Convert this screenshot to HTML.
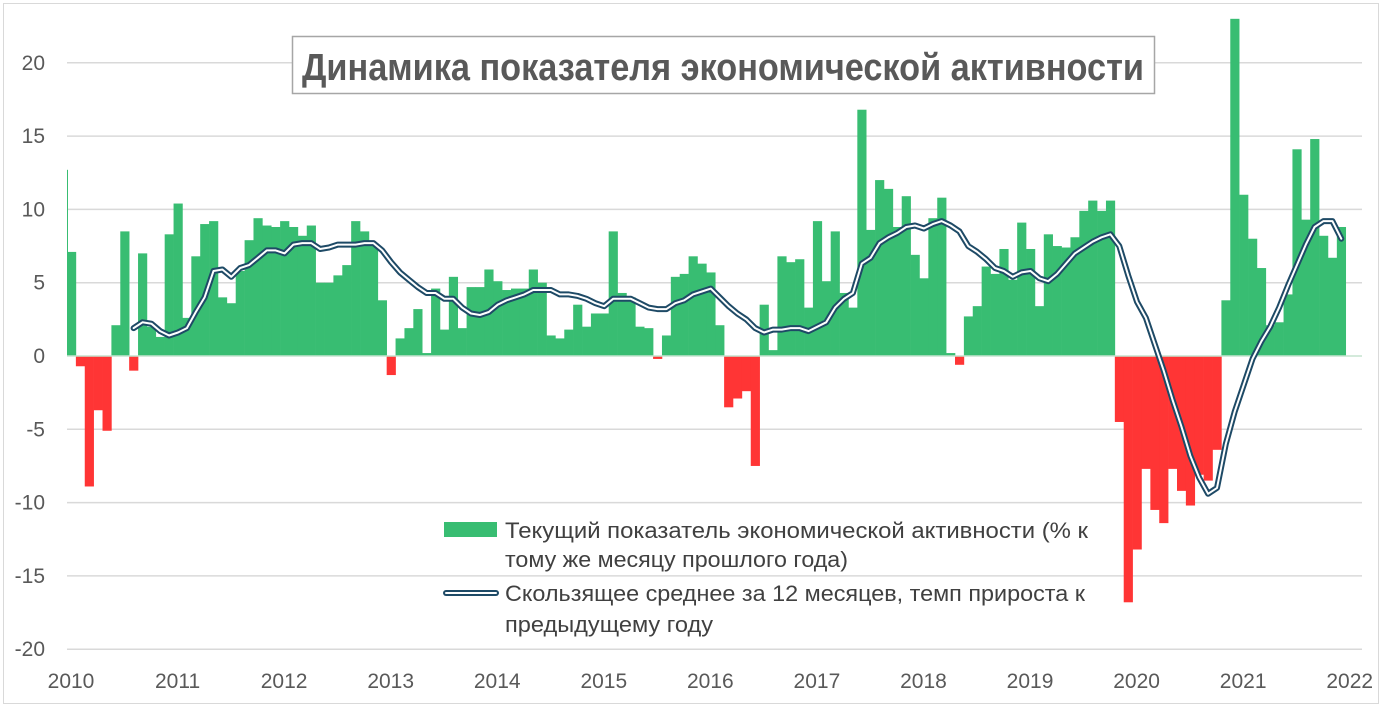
<!DOCTYPE html>
<html><head><meta charset="utf-8"><style>
html,body{margin:0;padding:0;background:#fff;}
svg{display:block;font-family:"Liberation Sans",sans-serif;}
</style></head><body>
<svg id="s" width="1382" height="707" viewBox="0 0 1382 707" xmlns="http://www.w3.org/2000/svg">
<rect x="3.5" y="3.5" width="1375" height="700" fill="#fff" stroke="#d9d9d9"/>
<g id="grid" stroke="#d9d9d9" stroke-width="1.5"></g>
<g id="bars"></g>
<g id="line"></g>
<g fill="#595959" font-size="21" text-anchor="end" id="ylab"></g>
<g fill="#595959" font-size="21" text-anchor="middle" id="xlab"></g>
<rect x="292.5" y="36.5" width="862" height="57" fill="#fff" stroke="#a6a6a6" stroke-width="1.5"/>
<text x="723" y="80" text-anchor="middle" font-family="'Liberation Sans Narrow','Liberation Sans',sans-serif" font-weight="bold" font-size="38" fill="#595959" textLength="842" lengthAdjust="spacingAndGlyphs">Динамика показателя экономической активности</text>
<rect x="444" y="522" width="53" height="15" fill="#38bd72"/>
<g fill="#404040" font-size="22">
<text x="505" y="538" textLength="583" lengthAdjust="spacingAndGlyphs">Текущий показатель экономической активности (% к</text>
<text x="505" y="567" textLength="343" lengthAdjust="spacingAndGlyphs">тому же месяцу прошлого года)</text>
<text x="505" y="601" textLength="580" lengthAdjust="spacingAndGlyphs">Скользящее среднее за 12 месяцев, темп прироста к</text>
<text x="505" y="632" textLength="208" lengthAdjust="spacingAndGlyphs">предыдущему году</text>
</g>
<line x1="446" y1="593" x2="496" y2="593" stroke="#1e4a66" stroke-width="6" stroke-linecap="round"/>
<line x1="446" y1="593" x2="496" y2="593" stroke="#fff" stroke-width="2" stroke-linecap="round"/>
</svg>
<script>
var NS="http://www.w3.org/2000/svg";
function el(t,a,p){var e=document.createElementNS(NS,t);for(var k in a)e.setAttribute(k,a[k]);p.appendChild(e);return e;}
var Y0=356,U=14.66,X0=67,M=8.88;
function y(v){return Y0-v*U;}
var g=document.getElementById('grid'),yl=document.getElementById('ylab'),xl=document.getElementById('xlab');
for(var v=-20;v<=20;v+=5){if(v!=0)el('line',{x1:67,x2:1362,y1:y(v),y2:y(v)},g);var t=el('text',{x:45,y:y(v)+7},yl);t.textContent=v;}
for(var yr=0;yr<=12;yr++){var t=el('text',{x:X0+yr*12*M+4,y:688},xl);t.textContent=2010+yr;}
var d=[7.1,-0.7,-8.9,-3.7,-5.1,2.1,8.5,-1.0,7.0,2.0,1.3,8.3,
10.4,2.6,6.8,9.0,9.2,4.0,3.6,5.8,7.9,9.4,8.9,8.8,
9.2,8.8,8.2,8.9,5.0,5.0,5.5,6.2,9.2,8.5,7.7,3.8,
-1.3,1.2,1.9,3.2,0.2,4.6,1.8,5.4,1.9,4.7,4.7,5.9,
5.1,4.5,4.6,4.6,5.9,5.0,1.4,1.2,1.8,3.5,2.0,2.9,
2.9,8.5,4.3,4.0,2.0,1.9,-0.2,1.4,5.4,5.6,6.8,6.3,
5.7,2.1,-3.5,-2.9,-2.4,-7.5,3.5,0.4,6.8,6.4,6.6,3.3,
9.2,5.1,8.5,4.3,3.3,16.8,8.6,12.0,11.4,8.8,10.9,6.9,
5.3,9.4,10.8,0.2,-0.6,2.7,3.4,6.1,5.6,7.3,5.2,9.1,
7.3,3.4,8.3,7.5,7.4,8.1,9.9,10.6,9.9,10.6,-4.5,-16.8,
-13.2,-7.7,-10.5,-11.4,-7.7,-9.2,-10.2,-8.1,-8.5,-6.4,3.8,23.0,
11.0,8.0,6.0,2.1,2.3,4.2,14.1,9.3,14.8,8.2,6.7,8.8];
var b=document.getElementById('bars');
el('rect',{x:67,y:y(12.7),width:1,height:12.7*U,fill:'#38bd72'},b);
d.forEach(function(v,i){var x=X0+i*M;el('rect',{x:x,y:v>0?y(v):Y0,width:M+0.3,height:Math.abs(v)*U,fill:v>0?'#38bd72':'#ff3535'},b);});
el('line',{x1:67,x2:1362,y1:Y0,y2:Y0,stroke:'#c5e3cf','stroke-width':1.5},b);
var L=[1.9,2.3,2.2,1.7,1.4,1.6,1.9,3.0,4.0,5.8,5.9,5.4,6.0,6.2,6.7,7.2,7.2,7.0,7.6,7.7,7.7,7.3,7.4,7.6,7.6,7.6,7.7,7.7,7.2,6.4,5.7,5.2,4.7,4.3,4.3,3.9,3.9,3.3,2.9,2.8,3.0,3.5,3.8,4.0,4.2,4.5,4.5,4.5,4.2,4.2,4.1,3.9,3.6,3.4,3.9,3.9,3.9,3.6,3.3,3.2,3.2,3.6,3.8,4.2,4.4,4.6,4.0,3.4,2.9,2.5,1.9,1.6,1.8,1.8,1.9,1.9,1.7,2.0,2.3,3.3,3.9,4.3,6.3,6.7,7.7,8.1,8.4,8.8,8.9,8.7,9.0,9.2,8.9,8.5,7.5,7.1,6.6,6.0,5.8,5.4,5.7,5.8,5.3,5.1,5.6,6.3,7.0,7.4,7.8,8.1,8.3,7.5,5.5,3.7,2.6,0.8,-1.0,-3.0,-4.8,-6.8,-8.3,-9.4,-9.0,-6.0,-3.8,-2.0,-0.2,1.0,2.0,3.3,4.8,6.2,7.6,8.8,9.2,9.2,8.0];
var pts=L.map(function(v,k){return (X0+(k+7)*M+M/2).toFixed(1)+','+y(v).toFixed(1);}).join(' ');
var lg=document.getElementById('line');
el('polyline',{points:pts,fill:'none',stroke:'#1e4a66','stroke-width':6,'stroke-linejoin':'round','stroke-linecap':'round'},lg);
el('polyline',{points:pts,fill:'none',stroke:'#fff','stroke-width':2,'stroke-linejoin':'round','stroke-linecap':'round'},lg);
</script>
</body></html>
